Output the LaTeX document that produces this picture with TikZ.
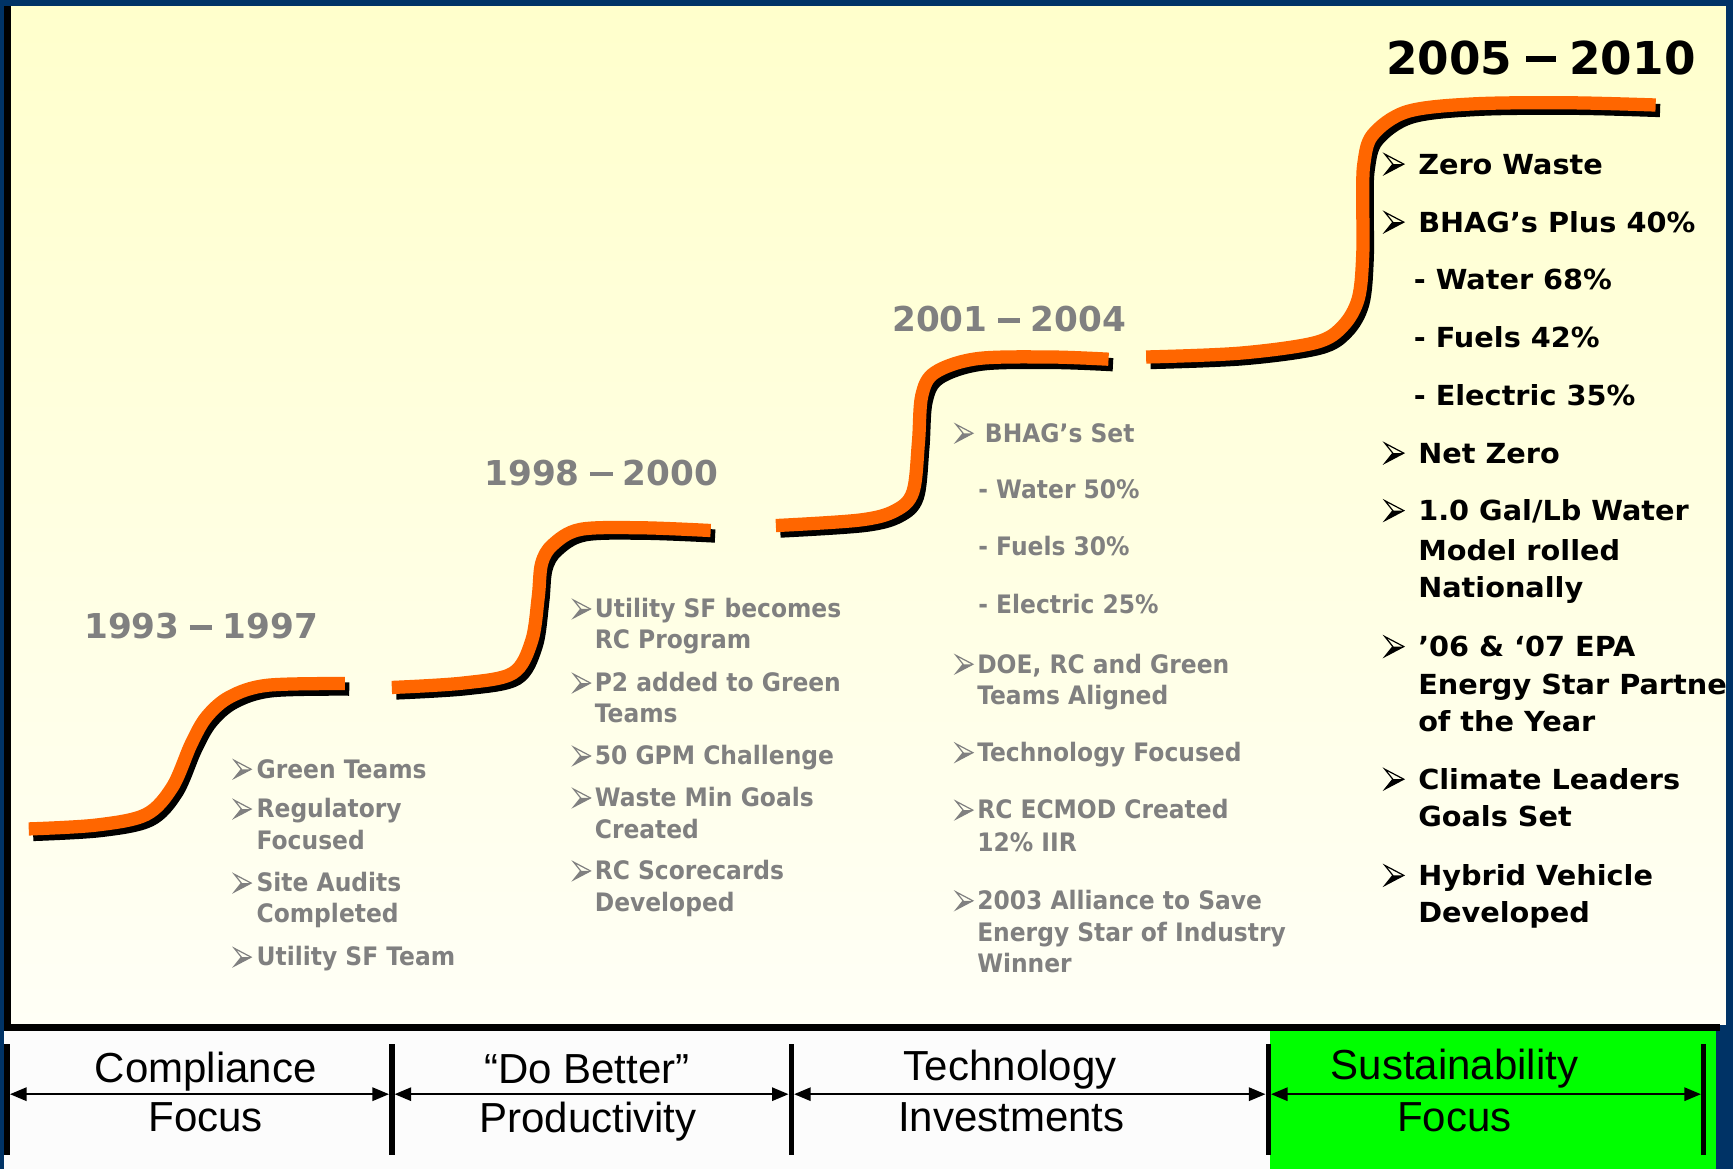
\documentclass[tikz,border=0pt]{standalone}
\usepackage{fontspec}
\usepackage{graphicx}
\usetikzlibrary{arrows.meta}
\newfontfamily\itemf{DejaVu Sans}[FakeStretch=0.92]
\newfontfamily\colf{DejaVu Sans}[FakeStretch=1.04]
\newfontfamily\yearf{DejaVu Sans}
\newfontfamily\arialf{Liberation Sans}
\definecolor{navy}{RGB}{0,51,102}
\definecolor{txtgray}{RGB}{128,128,128}
\definecolor{stepor}{RGB}{255,102,0}
\definecolor{ytop}{RGB}{255,255,204}
\definecolor{ybot}{RGB}{255,255,246}
\definecolor{grn}{RGB}{0,255,0}
\definecolor{paper}{RGB}{252,252,252}
\newcommand\ydash{\hspace{0.3em}\rule[0.26em]{0.66em}{0.13em}\hspace{0.3em}}
\tikzset{
  pics/abul/.style={code={
    \draw[line width=1.1pt, line join=miter, draw=#1] (0,-1) -- (0.95,-0.5) -- (0,0) -- (0.4,-0.5) -- cycle;
    \fill[#1] (0,0) -- (0.95,-0.5) -- (0.4,-0.5) -- cycle;}}
}
\begin{document}
\begin{tikzpicture}[x=1pt,y=-1pt,
  gi/.style={anchor=base west, inner sep=0pt, text=txtgray, font=\itemf\bfseries\fontsize{23}{23}\selectfont},
  ki/.style={anchor=base west, inner sep=0pt, text=black, font=\colf\bfseries\fontsize{25}{25}\selectfont},
  yr/.style={anchor=base west, inner sep=0pt, text=txtgray, font=\yearf\bfseries\fontsize{31}{31}\selectfont},
  yrk/.style={anchor=base west, inner sep=0pt, text=black, font=\yearf\bfseries\fontsize{41}{41}\selectfont},
  bt/.style={anchor=base, inner sep=0pt, text=black, font=\arialf\fontsize{38}{38}\selectfont},
  gb/.style={scale=16},
  kb/.style={scale=18},
  stepline/.style={line width=12pt, draw=stepor, line cap=butt},
  stepshadow/.style={line width=12pt, draw=black, line cap=butt, shift={(4,5)}},
  divbar/.style={line width=5pt, draw=black},
  span/.style={line width=2pt, draw=black, {Triangle[length=15pt,width=12pt]}-{Triangle[length=15pt,width=12pt]}, shorten <=2.5pt, shorten >=2.5pt}
]
\useasboundingbox (0,0) rectangle (1568,1058);
% background
\fill[navy] (0,0) rectangle (1568,1058);
\fill[black] (3.5,5.5) rectangle (10,933);
\shade[top color=ytop, bottom color=ybot] (10,5.5) rectangle (1562,927);
\fill[paper] (4,933) rectangle (1149,1058);
\fill[grn] (1149,933) rectangle (1553,1058);
\fill[black] (3.5,926.5) rectangle (1556,933);

% steps
\def\cA{(26,750) (87,746.5) (132,737) (156,712) (173,673) (187,648.5) (208,630.5) (242,620) (312,618.5)}
\def\cB{(354.5,622) (419,618) (464,609) (481,580) (487,540) (490,510) (500,493) (525,479) (580,477.5) (643,480)}
\def\cC{(702,475.5) (778,470.5) (810,462) (826,445) (831,400) (834,358) (846,337) (884,324.5) (950,323) (1003,325)}
\def\cD{(1037,323) (1122,319.5) (1190,310) (1215,295) (1229,270) (1233,230) (1233,180) (1234,148) (1242,122) (1273,101) (1333,94) (1420,93) (1498,95)}
\foreach \c in {\cA,\cB,\cC,\cD}{
  \draw[stepshadow] plot[smooth, tension=0.55] coordinates {\c};
  \draw[stepline] plot[smooth, tension=0.55] coordinates {\c};
}

% column 1
\node[yr] (y1) at (76,578) {1993\ydash 1997};
\foreach \y in {704,740,807,874}{\pic[gb] at (212,\y) {abul=txtgray};}
\node[gi] (t11) at (232,704) {Green Teams};
\node[gi] (t12a) at (232,740) {Regulatory};
\node[gi] (t12b) at (232,769) {Focused};
\node[gi] (t13a) at (232,807) {Site Audits};
\node[gi] (t13b) at (232,835) {Completed};
\node[gi] (t14) at (232,874) {Utility SF Team};

% column 2
\node[yr] (y2) at (438,439) {1998\ydash 2000};
\foreach \y in {559,626,692,730,796}{\pic[gb] at (519,\y) {abul=txtgray};}
\node[gi] (t21a) at (538,559) {Utility SF becomes};
\node[gi] (t21b) at (538,587) {RC Program};
\node[gi] (t22a) at (538,626) {P2 added to Green};
\node[gi] (t22b) at (538,654) {Teams};
\node[gi] (t23) at (538,692) {50 GPM Challenge};
\node[gi] (t24a) at (538,730) {Waste Min Goals};
\node[gi] (t24b) at (538,759) {Created};
\node[gi] (t25a) at (538,796) {RC Scorecards};
\node[gi] (t25b) at (538,825) {Developed};

% column 3
\node[yr] (y3) at (807,300) {2001\ydash 2004};
\foreach \y in {400,609,689,741,823}{\pic[gb] at (865,\y) {abul=txtgray};}
\node[gi] (t31) at (891,400) {BHAG’s Set};
\node[gi] (t31w) at (885,451) {- Water 50\%};
\node[gi] (t31f) at (885,503) {- Fuels 30\%};
\node[gi] (t31e) at (885,555) {- Electric 25\%};
\node[gi] (t32a) at (884,609) {DOE, RC and Green};
\node[gi] (t32b) at (884,637) {Teams Aligned};
\node[gi] (t33) at (884,689) {Technology Focused};
\node[gi] (t34a) at (884,741) {RC ECMOD Created};
\node[gi] (t34b) at (884,770) {12\% IIR};
\node[gi] (t35a) at (884,823) {2003 Alliance to Save};
\node[gi] (t35b) at (884,852) {Energy Star of Industry};
\node[gi] (t35c) at (884,880) {Winner};

% column 4
\node[yrk] (y4) at (1254,67) {2005\ydash 2010};
\foreach \y in {157.5,210,419,471,594,714,801}{\pic[kb] at (1253,\y) {abul=black};}
\node[ki] (t41) at (1283,157.5) {Zero Waste};
\node[ki] (t42) at (1283,210) {BHAG’s Plus 40\%};
\node[ki] (t42w) at (1279,262) {- Water 68\%};
\node[ki] (t42f) at (1279,314) {- Fuels 42\%};
\node[ki] (t42e) at (1279,366.5) {- Electric 35\%};
\node[ki] (t43) at (1283,419) {Net Zero};
\node[ki] (t44a) at (1283,471) {1.0 Gal/Lb Water};
\node[ki] (t44b) at (1283,507) {Model rolled};
\node[ki] (t44c) at (1283,541) {Nationally};
\node[ki] (t45a) at (1283,594) {’06 \& ‘07 EPA};
\node[ki] (t45b) at (1283,628) {Energy Star Partner};
\node[ki] (t45c) at (1283,662) {of the Year};
\node[ki] (t46a) at (1283,714) {Climate Leaders};
\node[ki] (t46b) at (1283,748) {Goals Set};
\node[ki] (t47a) at (1283,801) {Hybrid Vehicle};
\node[ki] (t47b) at (1283,835) {Developed};

% right border over clipped text
\fill[navy] (1562,0) rectangle (1568,927);

% bottom phases
\foreach \x in {6.5,354.5,716,1147.5,1541.5}{\draw[divbar] (\x,945) -- (\x,1045);}
\coordinate (d0) at (6.5,990);
\coordinate (d1) at (354.5,990);
\coordinate (d2) at (716,990);
\coordinate (d3) at (1147.5,990);
\coordinate (d4) at (1541.5,990);
\draw[span] (d0) -- (d1);
\draw[span] (d1) -- (d2);
\draw[span] (d2) -- (d3);
\draw[span] (d3) -- (d4);
\node[bt] (p1a) at (186,979) {Compliance};
\node[bt] (p1b) at (186,1024) {Focus};
\node[bt] (p2a) at (531,980) {“Do Better”};
\node[bt] (p2b) at (532,1025) {Productivity};
\node[bt] (p3a) at (914,978) {Technology};
\node[bt] (p3b) at (915,1024) {Investments};
\node[bt] (p4a) at (1316,977) {Sustainability};
\node[bt] (p4b) at (1316,1024) {Focus};
\end{tikzpicture}
\end{document}
